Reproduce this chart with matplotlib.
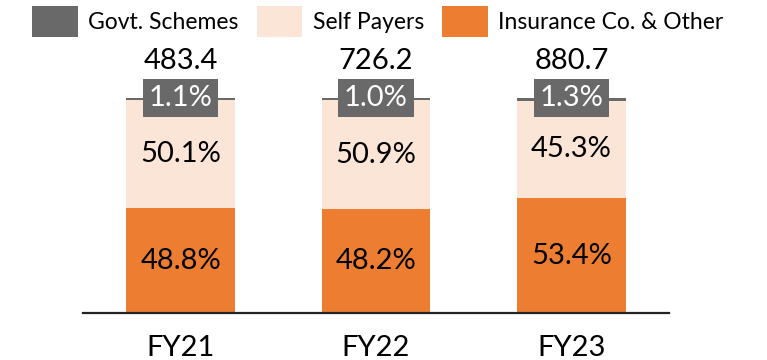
import numpy as np
import matplotlib.pyplot as plt
from matplotlib.patches import Patch

plt.rcParams['font.family'] = ['Lato', 'DejaVu Sans']

years = ['FY21', 'FY22', 'FY23']
totals = [483.4, 726.2, 880.7]
insurance = [48.8, 48.2, 53.4]
self_payers = [50.1, 50.9, 45.3]
govt = [1.1, 1.0, 1.3]

c_govt = '#696969'
c_self = '#fbe5d6'
c_ins = '#ed7d31'

fig = plt.figure(figsize=(7.67, 3.6), dpi=100)
ax = fig.add_axes([83 / 767, 47 / 360, 586 / 767, 215 / 360])

x = np.arange(len(years))
w = 0.556
ins = np.array(insurance)
sp = np.array(self_payers)
gv = np.array(govt)

ax.bar(x, ins, w, color=c_ins)
ax.bar(x, sp, w, bottom=ins, color=c_self)
ax.bar(x, gv, w, bottom=ins + sp, color=c_govt)

fs = 21
for i in range(len(years)):
    ax.text(x[i], ins[i] / 2, f'{insurance[i]:.1f}%', ha='center', va='center', fontsize=fs)
    ax.text(x[i], ins[i] + sp[i] / 2, f'{self_payers[i]:.1f}%', ha='center', va='center', fontsize=fs)
    top = ins[i] + sp[i] + gv[i]
    ax.text(x[i], top, f'{govt[i]:.1f}%', ha='center', va='center', fontsize=fs, color='white',
            bbox=dict(boxstyle='square,pad=0.2', facecolor=c_govt, edgecolor='none'))
    ax.text(x[i], top + 17, f'{totals[i]:.1f}', ha='center', va='center', fontsize=fs)

ax.set_xlim(-0.5, 2.5)
ax.set_ylim(0, 100)
ax.set_xticks(x)
ax.set_xticklabels(years, fontsize=fs)
ax.tick_params(axis='x', length=0, pad=16)
ax.set_yticks([])
for s in ['top', 'left', 'right']:
    ax.spines[s].set_visible(False)
ax.spines['bottom'].set_linewidth(1.6)
ax.spines['bottom'].set_color('#222222')

handles = [Patch(facecolor=c_govt), Patch(facecolor=c_self), Patch(facecolor=c_ins)]
fig.legend(handles, ['Govt. Schemes', 'Self Payers', 'Insurance Co. & Other'],
           loc='upper left', bbox_to_anchor=(32 / 767, 1 - 6 / 360), ncol=3, frameon=False,
           fontsize=16.5, handlelength=2.0, handleheight=1.7, handletextpad=0.44,
           columnspacing=0.8, borderpad=0, borderaxespad=0)

fig.savefig('out.png', dpi=100)
